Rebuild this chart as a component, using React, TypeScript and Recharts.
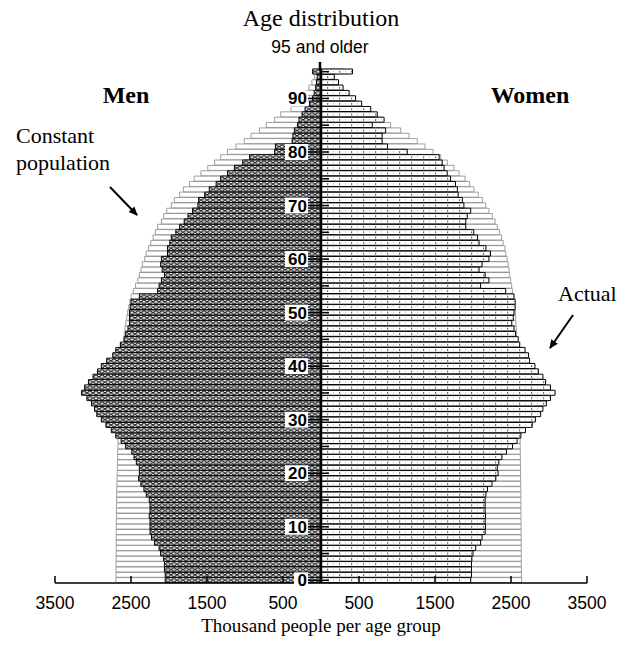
import React from 'react';
import { BarChart, Bar, XAxis, YAxis, ReferenceLine, ReferenceDot } from 'recharts';

const AGES: number[] = Array.from({ length: 96 }, (_, i) => i);

const MEN_ACTUAL = [
  2050, 2050, 2060, 2060, 2070, 2110, 2130, 2190, 2230, 2250,
  2250, 2250, 2260, 2250, 2250, 2260, 2300, 2330, 2370, 2400,
  2390, 2390, 2430, 2460, 2490, 2570, 2630, 2700, 2760, 2830,
  2890, 2950, 2980, 3020, 3080, 3150, 3110, 3060, 3000, 2940,
  2890, 2820, 2740, 2700, 2640, 2590, 2570, 2540, 2520, 2520,
  2520, 2510, 2500, 2390, 2150, 2130, 2100, 2060, 2090, 2110,
  2100, 2020, 2020, 1990, 1970, 1910, 1860, 1800, 1750, 1690,
  1620, 1610, 1530, 1470, 1380, 1320, 1230, 1140, 1030, 940,
  610, 600, 380, 370, 350, 310, 290, 250, 210, 150,
  110, 90, 70, 60, 50, 110,
];

const WOMEN_ACTUAL = [
  1970, 1980, 1980, 1980, 1985, 2000, 2035, 2100, 2120, 2160,
  2165, 2160, 2165, 2160, 2160, 2160, 2170, 2190, 2250, 2300,
  2330, 2320, 2340, 2380, 2440, 2520, 2580, 2630, 2690, 2780,
  2820, 2890, 2920, 2965, 3020, 3080, 3020, 2955, 2920, 2860,
  2815, 2745, 2730, 2685, 2615, 2595, 2560, 2540, 2510, 2530,
  2540, 2555, 2555, 2540, 2430, 2100, 2210, 2160, 2080, 2120,
  2210, 2230, 2170, 2080, 2060, 2010, 1905, 1905, 1925, 1970,
  1880, 1860, 1805, 1795, 1770, 1705, 1660, 1620, 1595, 1555,
  1135, 875, 805, 805, 850, 675, 830, 740, 655, 535,
  455, 370, 290, 230, 175, 415,
];

const MEN_CONST = [
  2700, 2698, 2697, 2697, 2696, 2696, 2695, 2695, 2694, 2694,
  2693, 2693, 2692, 2692, 2691, 2690, 2689, 2688, 2686, 2684,
  2682, 2680, 2678, 2676, 2674, 2672, 2670, 2668, 2666, 2664,
  2662, 2660, 2657, 2654, 2651, 2648, 2645, 2641, 2637, 2633,
  2628, 2623, 2617, 2611, 2604, 2596, 2588, 2578, 2568, 2556,
  2544, 2530, 2515, 2498, 2470, 2440, 2410, 2390, 2370, 2350,
  2320, 2300, 2270, 2240, 2210, 2180, 2150, 2100, 2070, 2030,
  1970, 1930, 1860, 1810, 1730, 1670, 1580, 1490, 1400, 1320,
  1230, 1120, 1010, 920, 810, 720, 610, 530, 395, 330,
  270, 210, 160, 120, 85, 100,
];

const WOMEN_CONST = [
  2640, 2638, 2637, 2636, 2636, 2635, 2635, 2634, 2634, 2633,
  2633, 2632, 2632, 2631, 2631, 2630, 2630, 2629, 2628, 2627,
  2626, 2625, 2624, 2623, 2622, 2621, 2620, 2619, 2618, 2617,
  2616, 2614, 2612, 2610, 2608, 2606, 2604, 2602, 2600, 2597,
  2594, 2591, 2588, 2585, 2582, 2578, 2574, 2570, 2566, 2562,
  2558, 2550, 2542, 2530, 2518, 2509, 2496, 2483, 2474, 2463,
  2450, 2432, 2420, 2397, 2377, 2350, 2320, 2290, 2255, 2210,
  2167, 2123, 2070, 2013, 1956, 1895, 1816, 1750, 1662, 1575,
  1474, 1368, 1267, 1158, 1049, 917, 807, 697, 588, 491,
  391, 303, 237, 184, 141, 300,
];

const X_TICKS = [-3500, -2500, -1500, -500, 500, 1500, 2500, 3500];
const AGE_LABELS = [0, 10, 20, 30, 40, 50, 60, 70, 80, 90];
const AGE_MARKS = [0, 5, 10, 15, 20, 25, 30, 35, 40, 45, 50, 55, 60, 65, 70, 75, 80, 85, 90, 95];

const data = AGES.map((age, i) => ({
  age,
  menC: -MEN_CONST[i],
  womenC: WOMEN_CONST[i],
  menA: -MEN_ACTUAL[i],
  womenA: WOMEN_ACTUAL[i],
}));

const SERIF = '"Liberation Serif", "Times New Roman", serif';
const SANS = '"Liberation Sans", Arial, sans-serif';

const W = 618;
const H = 649;

function XTick(props: any) {
  const { x, y, payload } = props;
  return (
    <g>
      <line x1={x} x2={x} y1={y - 7} y2={y} stroke="#000" strokeWidth={1.5} />
      <text x={x} y={y + 26} textAnchor="middle" fontFamily={SANS} fontSize={17.5} fill="#000">
        {Math.abs(payload.value)}
      </text>
    </g>
  );
}

function AgeMark({ cx, cy, age }: { cx: number; cy: number; age: number }) {
  if (cx == null || cy == null) return null;
  const labelled = AGE_LABELS.includes(age);
  if (!labelled) {
    return <line x1={cx} x2={cx + 8} y1={cy} y2={cy} stroke="#000" strokeWidth={1.5} />;
  }
  const wide = age >= 10;
  return (
    <g>
      <rect x={cx - (wide ? 36 : 27)} y={cy - 8} width={wide ? 23 : 14} height={16} fill="#fff" />
      <line x1={cx - 13} x2={cx + 8} y1={cy} y2={cy} stroke="#000" strokeWidth={1.5} />
      <text x={cx - 14} y={cy + 6} textAnchor="end" fontFamily={SANS} fontWeight="bold" fontSize={17} fill="#000">
        {age}
      </text>
    </g>
  );
}

export default function App() {
  return (
    <div style={{ position: 'relative', width: W, height: H, background: '#fff' }}>
      <style>{'body{margin:0;background:#fff}'}</style>
      <BarChart
        width={W}
        height={H}
        data={data}
        layout="vertical"
        stackOffset="sign"
        barCategoryGap={0}
        barGap={0}
        margin={{ top: 69, right: 31, bottom: 26, left: 55 }}
      >
        <defs>
          <pattern id="menPat" patternUnits="userSpaceOnUse" x={0} y={69} width={6} height={5.354}>
            <rect x={0} y={0} width={6} height={5.354} fill="#fff" />
            <path d="M0,0.6 L3,2.7 L6,0.6 M0,4.8 L3,2.7 L6,4.8" stroke="#000" strokeWidth={1} fill="none" />
            <path d="M0,2.7 L6,2.7" stroke="#666" strokeWidth={0.6} />
          </pattern>
          <pattern id="womenPat" patternUnits="userSpaceOnUse" x={0} y={69} width={12} height={5.354}>
            <rect x={0} y={0} width={12} height={5.354} fill="#fff" />
            <rect x={3} y={2.1} width={1.2} height={1.2} fill="#222" />
            <rect x={9} y={2.1} width={0.8} height={0.8} fill="#888" />
          </pattern>
        </defs>
        <XAxis
          type="number"
          domain={[-3500, 3500]}
          ticks={X_TICKS}
          allowDataOverflow
          height={40}
          tickSize={0}
          tickMargin={0}
          tickLine={false}
          axisLine={{ stroke: '#000', strokeWidth: 1.6 }}
          tick={<XTick />}
          interval={0}
        />
        <YAxis yAxisId="yc" type="category" dataKey="age" reversed hide />
        <YAxis yAxisId="ya" type="category" dataKey="age" reversed hide />
        <Bar yAxisId="yc" dataKey="menC" stackId="c" fill="#fff" stroke="#888" strokeWidth={0.8} isAnimationActive={false} />
        <Bar yAxisId="yc" dataKey="womenC" stackId="c" fill="#fff" stroke="#888" strokeWidth={0.8} isAnimationActive={false} />
        <Bar yAxisId="ya" dataKey="menA" stackId="a" fill="url(#menPat)" stroke="#000" strokeWidth={1} isAnimationActive={false} />
        <Bar yAxisId="ya" dataKey="womenA" stackId="a" fill="url(#womenPat)" stroke="#000" strokeWidth={1} isAnimationActive={false} />
        <ReferenceLine yAxisId="ya" x={0} stroke="#000" strokeWidth={2.5} />
        {AGE_MARKS.map((a) => (
          <ReferenceDot
            key={a}
            yAxisId="ya"
            x={0}
            y={a}
            r={1}
            shape={(p: any) => <AgeMark cx={p.cx} cy={p.cy} age={a} />}
          />
        ))}
      </BarChart>
      <svg
        width={W}
        height={H}
        style={{ position: 'absolute', left: 0, top: 0, pointerEvents: 'none' }}
      >
        <defs>
          <marker id="arrowHead" markerWidth={10} markerHeight={10} refX={8} refY={5} orient="auto" markerUnits="userSpaceOnUse">
            <path d="M0,1 L9,5 L0,9 Z" fill="#000" />
          </marker>
        </defs>
        <line x1={320} y1={62} x2={320} y2={70} stroke="#000" strokeWidth={2.5} />
        <text x={321} y={26} textAnchor="middle" fontFamily={SERIF} fontSize={24} fill="#000">Age distribution</text>
        <text x={320} y={53} textAnchor="middle" fontFamily={SANS} fontSize={17.5} fill="#000">95 and older</text>
        <text x={126} y={103} textAnchor="middle" fontFamily={SERIF} fontWeight="bold" fontSize={24} fill="#000">Men</text>
        <text x={530} y={103} textAnchor="middle" fontFamily={SERIF} fontWeight="bold" fontSize={24} fill="#000">Women</text>
        <text x={16} y={143} fontFamily={SERIF} fontSize={22} fill="#000">Constant</text>
        <text x={16} y={170} fontFamily={SERIF} fontSize={22} fill="#000">population</text>
        <line x1={110} y1={187} x2={137} y2={215} stroke="#000" strokeWidth={2} markerEnd="url(#arrowHead)" />
        <text x={558} y={301} fontFamily={SERIF} fontSize={22} fill="#000">Actual</text>
        <line x1={573} y1={315} x2={550} y2={348} stroke="#000" strokeWidth={2} markerEnd="url(#arrowHead)" />
        <text x={321} y={632} textAnchor="middle" fontFamily={SERIF} fontSize={19} fill="#000">Thousand people per age group</text>
      </svg>
    </div>
  );
}
